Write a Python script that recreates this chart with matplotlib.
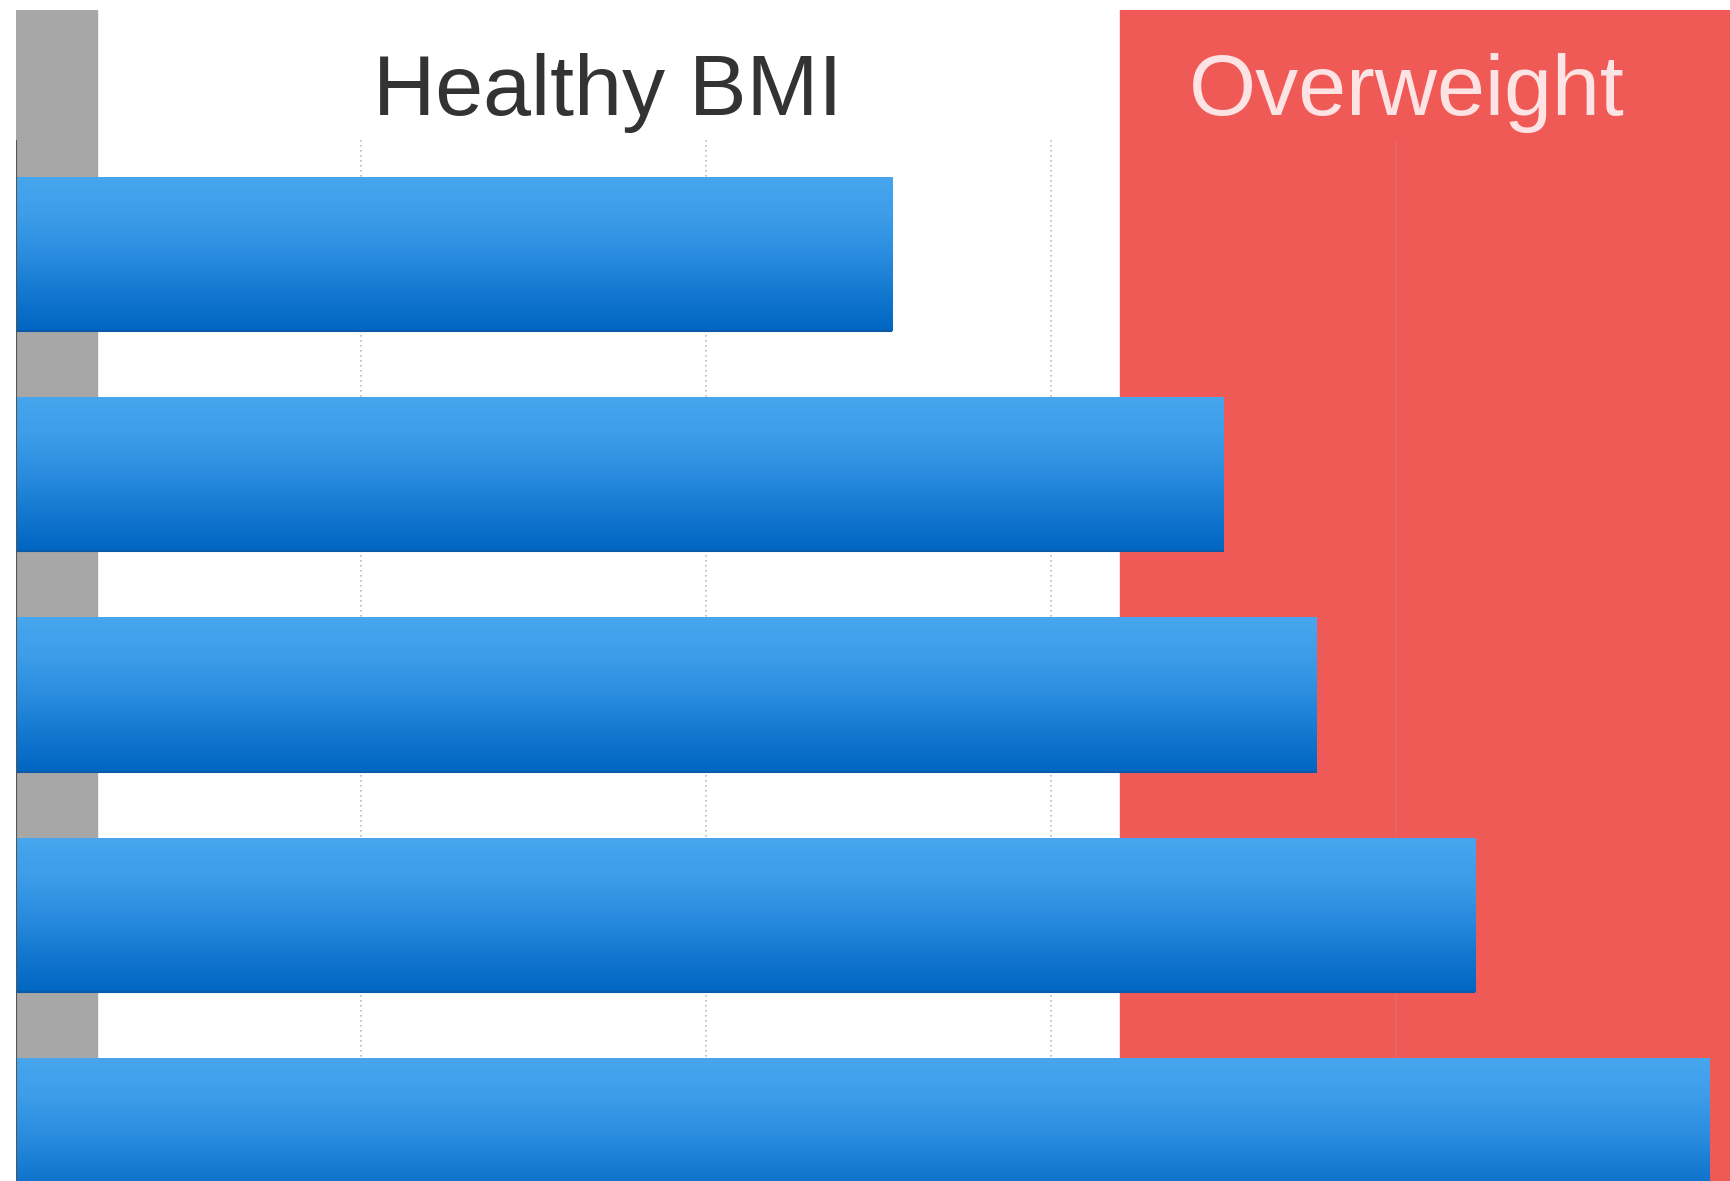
import numpy as np
import matplotlib.pyplot as plt
from matplotlib.colors import LinearSegmentedColormap

# bar lengths in grid units (axis starts at 0, dotted grid every 1 unit)
people = ['A', 'B', 'C', 'D', 'E']
values = [2.54, 3.50, 3.77, 4.23, 4.91]

zone_labels = ['Healthy BMI', 'Overweight']
underweight_end = 0.235
overweight_start = 3.2
grid_ticks = [1, 2, 3, 4]

fig = plt.figure(figsize=(17.31, 11.81), dpi=100)
# axes spans from the axis line (x=16px) to the right edge
ax = fig.add_axes([16 / 1731, 0, 1 - 16 / 1731, 1 - 10 / 1181])
ax.axis('off')

plot_top = -0.52

# zones
ax.axvspan(-0.005, underweight_end, color='#a6a7a6', zorder=0)
ax.axvspan(overweight_start, 10, color='#ef5a57', zorder=0)

# grid
for t in grid_ticks:
    if t < overweight_start:
        ax.vlines(t, plot_top, 5, colors='#b8bcc4', linestyles=(0, (1, 2)), lw=1.2, zorder=1)
    else:
        ax.vlines(t, plot_top, 5, colors='#e86461', lw=1.5, zorder=1)
ax.vlines(0, plot_top, 5, colors='#555555', lw=1.5, zorder=3)

# gradient bars
cmap = LinearSegmentedColormap.from_list('bar', ['#48a6ee', '#3d9de9', '#2a8ddf', '#1478d0', '#0066c2'])
grad = np.linspace(0, 1, 256).reshape(-1, 1)
bars = ax.barh(range(len(values)), values, height=0.70, color='none', edgecolor='none', zorder=2)
for b in bars:
    x0, y0 = b.get_x(), b.get_y()
    w, h = b.get_width(), b.get_height()
    im = ax.imshow(grad, cmap=cmap, aspect='auto', extent=(x0, x0 + w, y0 + h, y0),
                   origin='upper', zorder=2, interpolation='bicubic')
    im.set_clip_path(b)
    ax.hlines(y0 + h, x0, x0 + w, colors='#0a5aa8', lw=1.5, zorder=2.5)

ax.set_xlim(0, (1731 - 16) / 345)
ax.set_ylim(4.21, -1.109)

# zone labels
ax.text(1.714, -0.632, zone_labels[0], ha='center', va='baseline', fontsize=62,
        family='Liberation Sans', color='#333333', zorder=4)
ax.text(4.03, -0.632, zone_labels[1], ha='center', va='baseline', fontsize=62,
        family='Liberation Sans', color='#fde3e3', zorder=4)

plt.savefig('out.png', dpi=100)
